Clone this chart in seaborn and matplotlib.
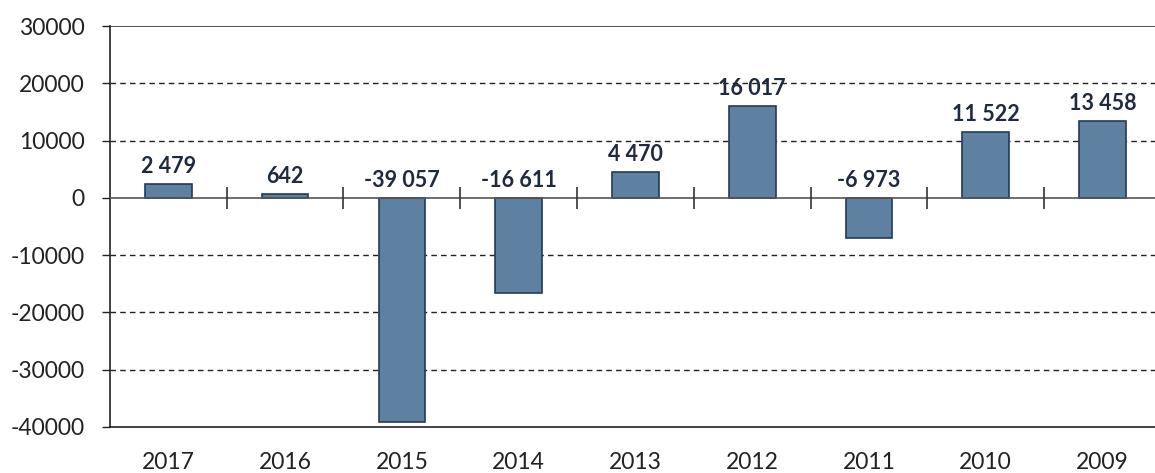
import matplotlib
matplotlib.use('Agg')
from matplotlib import pyplot as plt
import seaborn as sns
import numpy as np
import pandas as pd

years = ['2017', '2016', '2015', '2014', '2013', '2012', '2011', '2010', '2009']
values = [2479, 642, -39057, -16611, 4470, 16017, -6973, 11522, 13458]
labels = ['2 479', '642', '-39 057', '-16 611', '4 470', '16 017', '-6 973', '11 522', '13 458']
y_ticks = [30000, 20000, 10000, 0, -10000, -20000, -30000, -40000]

sns.set_style('white')
plt.rcParams['font.family'] = ['Lato', 'DejaVu Sans']

df = pd.DataFrame({'year': years, 'value': values})

fig = plt.figure(figsize=(11.55, 4.73), dpi=100)
ax = fig.add_axes([0.0952, 0.0973, 0.9048, 0.8477])

sns.barplot(data=df, x='year', y='value', color='#5e80a1', saturation=1,
            edgecolor='#233a5c', linewidth=1.2, width=0.4, ax=ax)

ax.set_ylim(-40000, 30000)
ax.set_xlim(-0.5, len(years) - 0.55)
ax.set_yticks(y_ticks)
ax.set_yticklabels([str(t) for t in y_ticks], fontsize=16.5, color='#222222')
ax.tick_params(axis='x', length=0, labelsize=16.5, pad=18, colors='#222222')
ax.tick_params(axis='y', left=True, length=6, width=1, pad=12, colors='#222222')
ax.set_xlabel('')
ax.set_ylabel('')

for s in ['top', 'right']:
    ax.spines[s].set_visible(False)
ax.spines['left'].set_color('#222222')
ax.spines['bottom'].set_color('#222222')
ax.spines['left'].set_linewidth(1.2)
ax.spines['bottom'].set_linewidth(1.2)

# gridlines
for t in y_ticks:
    if t == 30000:
        ax.axhline(t, color='#333333', lw=1.2, zorder=0)
    elif t == 0:
        ax.axhline(t, color='#555555', lw=1.2, zorder=3)
    elif t != -40000:
        ax.axhline(t, color='#222222', lw=1, ls=(0, (4, 3)), zorder=0)

# category separator ticks on zero line
sep = np.arange(len(years) - 1) + 0.5
ax.plot(sep, np.zeros(len(sep)), ls='none', marker='|', markersize=16,
        markeredgewidth=1.2, color='#333333', zorder=4)

for i, (v, lab) in enumerate(zip(values, labels)):
    ax.annotate(lab, (i, max(v, 0)), xytext=(0, 5), textcoords='offset points',
                ha='center', va='bottom', fontsize=15.5, fontweight='bold',
                color='#1f2a3d')

fig.savefig('out.png', dpi=100)
